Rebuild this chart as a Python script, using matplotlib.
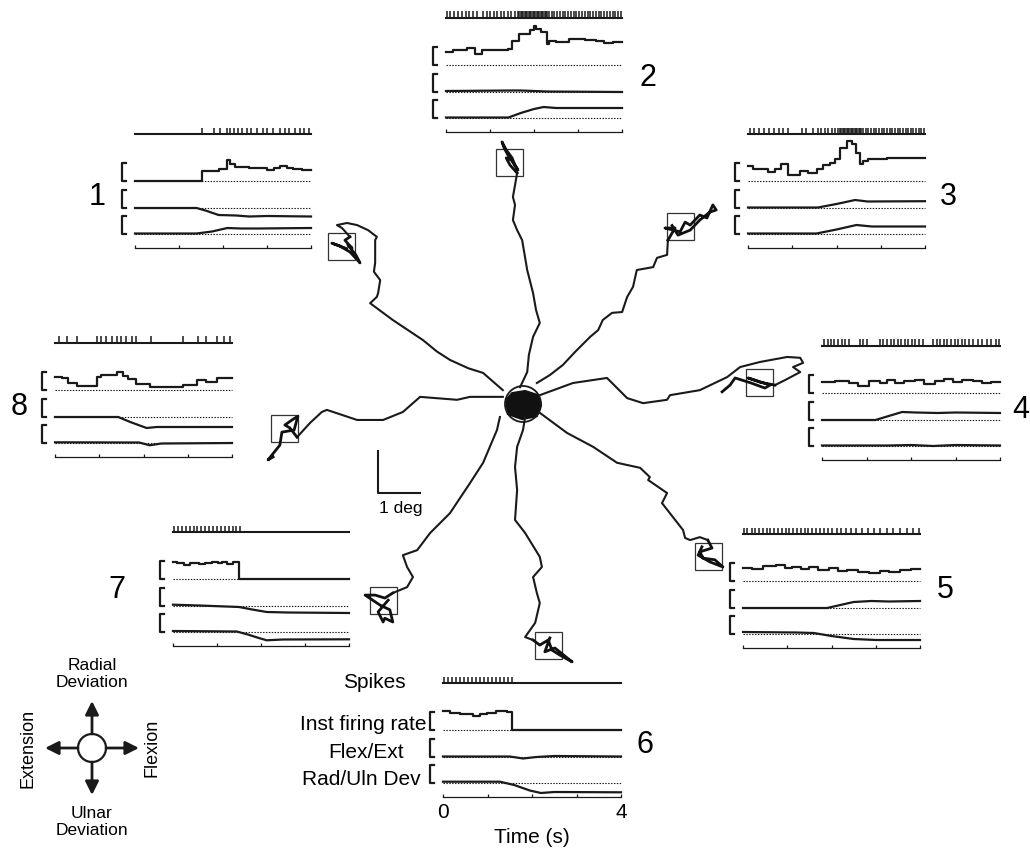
import numpy as np
import matplotlib
matplotlib.use("Agg")
import matplotlib.pyplot as plt
from matplotlib.patches import Circle, Rectangle, Polygon

plt.rcParams['font.family'] = ['Liberation Sans', 'DejaVu Sans']

# ---------------- eye position (deg) for the 8 targets ----------------
path1 = [(-0.48, 0.33), (-0.95, 0.74), (-1.3, 0.85), (-1.74, 1.05), (-2.05, 1.25), (-2.38, 1.52),
         (-3.10, 2.0), (-3.64, 2.40), (-3.48, 2.55), (-3.45, 2.64), (-3.40, 2.95), (-3.55, 3.15),
         (-3.52, 3.36), (-3.52, 3.90), (-3.48, 3.98), (-3.69, 4.14), (-3.95, 4.26), (-4.19, 4.31),
         (-4.43, 4.26), (-4.31, 4.19), (-4.12, 3.98)]
path2 = [(-0.07, 0.40), (0.10, 0.76), (0.14, 1.17), (0.24, 1.60), (0.40, 1.93), (0.31, 2.24),
         (0.24, 2.64), (0.10, 3.19), (-0.02, 3.90), (-0.14, 4.14), (-0.24, 4.38), (-0.19, 4.74),
         (-0.24, 4.93), (-0.19, 5.21), (-0.14, 5.50)]
path3 = [(0.33, 0.50), (0.64, 0.69), (0.95, 0.93), (1.24, 1.24), (1.52, 1.52), (1.60, 1.60),
         (1.79, 1.76), (1.90, 2.0), (2.12, 2.17), (2.36, 2.19), (2.48, 2.55), (2.62, 2.79),
         (2.71, 3.19), (3.10, 3.26), (3.19, 3.48), (3.43, 3.55), (3.45, 3.90)]
path4 = [(0.40, 0.21), (1.19, 0.50), (2.0, 0.62), (2.48, 0.14), (2.86, 0.02), (3.43, 0.10),
         (3.50, 0.21), (4.21, 0.33), (4.86, 0.64), (5.17, 0.88), (5.64, 1.0), (6.29, 1.12),
         (6.60, 1.10), (6.67, 0.98), (6.43, 0.88), (6.60, 0.76), (6.24, 0.57), (6.0, 0.45)]
path5 = [(0.40, -0.21), (1.05, -0.69), (1.67, -1.02), (2.24, -1.40), (2.79, -1.52), (3.02, -1.74),
         (2.98, -1.81), (3.43, -2.12), (3.31, -2.36), (3.81, -3.0), (3.86, -3.19), (3.98, -3.24),
         (4.21, -3.17), (4.40, -3.24)]
path6 = [(0.05, -0.31), (0.0, -0.62), (-0.14, -1.02), (-0.19, -1.5), (-0.14, -2.05), (-0.19, -2.76),
         (0.05, -3.07), (0.40, -3.64), (0.45, -3.88), (0.24, -4.12), (0.33, -4.5), (0.40, -4.74),
         (0.29, -5.21), (0.05, -5.55), (0.24, -5.62)]
path7 = [(-0.55, -0.31), (-0.62, -0.62), (-0.95, -1.40), (-1.26, -1.88), (-1.74, -2.60), (-2.21, -3.07),
         (-2.52, -3.48), (-2.86, -3.60), (-2.76, -3.88), (-2.62, -4.12), (-2.76, -4.36), (-3.10, -4.5)]
path8 = [(-0.48, 0.17), (-1.26, 0.17), (-1.57, 0.10), (-2.45, 0.17), (-2.86, -0.19), (-3.33, -0.38),
         (-3.95, -0.38), (-4.67, -0.14), (-4.79, -0.19), (-5.07, -0.45), (-5.38, -0.79)]

# hold period tangles inside each target window
tangle1 = [(-4.12, 3.98), (-4.24, 3.90), (-4.07, 3.71), (-4.17, 3.79), (-3.98, 3.55), (-3.88, 3.36),
           (-4.12, 3.62), (-4.36, 3.76), (-4.55, 3.83), (-4.2, 3.7)]
tangle2 = [(-0.14, 5.50), (-0.31, 5.69), (-0.40, 5.86), (-0.26, 5.81), (-0.12, 5.57), (-0.36, 5.93),
           (-0.45, 6.10), (-0.50, 6.24), (-0.40, 6.05), (-0.26, 5.86), (-0.2, 5.7)]
tangle3 = [(3.45, 3.90), (3.62, 4.19), (3.38, 4.19), (3.74, 4.10), (3.86, 4.33), (3.98, 4.26),
           (4.21, 4.5), (4.38, 4.43), (4.52, 4.74), (4.60, 4.62), (4.45, 4.57), (4.21, 4.38),
           (3.98, 4.14), (3.69, 4.02), (3.55, 4.25)]
tangle4 = [(6.0, 0.45), (5.64, 0.52), (5.36, 0.62), (5.52, 0.57), (5.88, 0.45), (5.76, 0.38),
           (5.43, 0.5), (5.05, 0.62), (4.93, 0.45), (4.74, 0.29)]
tangle5 = [(4.40, -3.24), (4.50, -3.43), (4.21, -3.52), (4.29, -3.67), (4.57, -3.71), (4.76, -3.88),
           (4.45, -3.76), (4.17, -3.60), (4.26, -3.40)]
tangle6 = [(0.24, -5.62), (0.40, -5.74), (0.60, -5.62), (0.69, -5.86), (0.88, -5.98), (1.17, -6.14),
           (0.76, -5.81), (0.52, -5.90), (0.64, -5.57)]
tangle7 = [(-3.10, -4.5), (-3.29, -4.62), (-3.52, -4.55), (-3.76, -4.55), (-3.40, -4.79), (-3.17, -4.90),
           (-3.10, -5.19), (-3.29, -5.10), (-3.33, -5.19), (-3.45, -4.95), (-3.21, -4.67)]
tangle8 = [(-5.38, -0.79), (-5.55, -0.57), (-5.67, -0.5), (-5.5, -0.38), (-5.36, -0.29), (-5.45, -0.62),
           (-5.74, -0.67), (-5.79, -0.98), (-6.07, -1.33), (-5.95, -1.26)]

targets = [(-4.32, 3.75), (-0.32, 5.75), (3.74, 4.23), (5.63, 0.51),
           (4.42, -3.63), (0.61, -5.76), (-3.33, -4.68), (-5.69, -0.58)]
start_blob = [(-0.40, 0.10), (-0.26, 0.26), (0.05, 0.31), (0.36, 0.21),
              (0.43, -0.02), (0.33, -0.29), (-0.02, -0.36), (-0.36, -0.24)]

# ---------------- unit activity and wrist position, per target ----------------
spikes1 = [1.53, 1.79, 1.94, 2.09, 2.15, 2.24, 2.33, 2.43, 2.54, 2.63, 2.77, 2.92, 2.99, 3.14,
           3.29, 3.40, 3.51, 3.63, 3.74, 3.85, 3.96]
spikes2 = [0.02, 0.10, 0.19, 0.27, 0.36, 0.45, 0.53, 0.62, 0.71,
           0.85, 0.93, 1.0, 1.08, 1.16, 1.24, 1.32, 1.40, 1.48, 1.56,
           1.64, 1.67, 1.70, 1.73, 1.76, 1.79, 1.82, 1.85, 1.88, 1.91, 1.94, 1.97, 2.0, 2.03,
           2.06, 2.09, 2.12, 2.15, 2.18, 2.21, 2.24, 2.27, 2.30, 2.33,
           2.40, 2.46, 2.52, 2.58, 2.65, 2.71, 2.77, 2.84, 2.90, 2.96, 3.03, 3.09, 3.15, 3.22,
           3.28, 3.34, 3.41, 3.47, 3.53, 3.60, 3.66, 3.72, 3.79, 3.85, 3.91, 3.98]
spikes3 = [0.04, 0.14, 0.24, 0.36, 0.48, 0.58, 0.70, 0.79, 0.91, 1.21, 1.32, 1.47, 1.58, 1.66,
           1.74, 1.81, 1.89, 1.96, 2.04, 2.08, 2.11, 2.14, 2.17, 2.20, 2.23, 2.26, 2.29, 2.32,
           2.35, 2.38, 2.41, 2.44, 2.47, 2.50, 2.53, 2.56, 2.59, 2.66, 2.72, 2.78, 2.84, 2.90,
           2.96, 3.02, 3.08, 3.14, 3.20, 3.26, 3.32, 3.38, 3.44, 3.50, 3.56, 3.62, 3.68, 3.74,
           3.80, 3.86, 3.92, 3.98]
spikes4 = [0.05, 0.13, 0.20, 0.28, 0.36, 0.44, 0.52, 0.60, 0.85, 0.93, 1.0, 1.30, 1.38, 1.46,
           1.54, 1.62, 1.70, 1.78, 1.86, 1.94, 2.02, 2.10, 2.18, 2.26, 2.50, 2.58, 2.66, 2.74,
           2.82, 2.90, 2.98, 3.06, 3.14, 3.22, 3.30, 3.40, 3.50, 3.60, 3.70, 3.80, 3.90, 3.98]
spikes5 = [0.02, 0.10, 0.20, 0.28, 0.37, 0.45, 0.54, 0.62, 0.71, 0.80, 0.88, 0.97, 1.05, 1.14,
           1.22, 1.31, 1.40, 1.48, 1.57, 1.66, 1.75, 1.84, 1.93, 2.02, 2.12, 2.22, 2.33, 2.44,
           2.56, 2.68, 2.82, 2.96, 3.10, 3.25, 3.40, 3.55, 3.70, 3.85, 3.98]
spikes6 = [0.02, 0.11, 0.20, 0.29, 0.38, 0.47, 0.56, 0.65, 0.74, 0.83, 0.92, 1.01, 1.10, 1.19,
           1.28, 1.37, 1.46, 1.55]
spikes7 = [0.02, 0.11, 0.20, 0.30, 0.38, 0.47, 0.55, 0.64, 0.73, 0.82, 0.92, 1.0, 1.09, 1.18,
           1.27, 1.36, 1.44, 1.52]
spikes8 = [0.08, 0.26, 0.50, 0.94, 1.05, 1.16, 1.28, 1.39, 1.50, 1.60, 1.73, 1.84, 2.18, 2.89,
           3.23, 3.42, 3.65, 3.83, 3.95]

rate1_t = [0, 1.53, 1.9, 2.09, 2.17, 2.28, 2.6, 3.0, 3.15, 3.3, 3.45, 3.6, 3.8]
rate1_v = [0, 10, 12, 21, 17, 14, 13, 11, 13, 15, 13, 12, 11]
rate2_t = [0, 0.17, 0.47, 0.66, 0.82, 1.4, 1.5, 1.65, 1.9, 2.0, 2.05, 2.15, 2.3, 2.35, 2.5, 2.8, 3.15, 3.4, 3.6, 3.8]
rate2_v = [13, 15, 17, 11, 15, 16, 24, 31, 35, 39, 36, 33, 21, 24, 23, 26, 25, 24, 22, 23]
rate3_t = [0, 0.11, 0.34, 0.45, 0.6, 0.75, 0.91, 1.17, 1.36, 1.55, 1.7, 1.85, 1.96, 2.07, 2.23, 2.34, 2.45, 2.53, 2.6, 2.72, 3.13]
rate3_v = [15, 12, 12, 9, 12, 17, 6, 10, 8, 12, 16, 18, 22, 33, 40, 37, 28, 17, 20, 22, 23]
rate4_t = [0, 0.3, 0.6, 0.8, 1.05, 1.3, 1.45, 1.65, 1.85, 2.1, 2.3, 2.55, 2.75, 2.95, 3.15, 3.4, 3.6, 3.8]
rate4_v = [11, 12, 10, 7, 12, 10, 13, 10, 12, 13, 9, 12, 14, 11, 13, 12, 10, 11]
rate5_t = [0, 0.2, 0.45, 0.75, 0.95, 1.1, 1.3, 1.5, 1.7, 1.95, 2.15, 2.35, 2.6, 2.85, 3.1, 3.3, 3.55, 3.8]
rate5_v = [13, 12, 15, 16, 13, 14, 12, 14, 11, 13, 10, 11, 9, 8, 10, 9, 11, 12]
rate6_t = [0, 0.15, 0.38, 0.68, 0.83, 0.98, 1.2, 1.43, 1.56]
rate6_v = [19, 17, 16, 14, 16, 17, 19, 18, 0]
rate7_t = [0, 0.09, 0.24, 0.39, 0.58, 0.73, 0.88, 1.03, 1.11, 1.22, 1.37, 1.51]
rate7_v = [17, 16, 14, 16, 15, 16, 17, 16, 17, 15, 17, 0]
rate8_t = [0, 0.15, 0.3, 0.49, 0.94, 1.05, 1.39, 1.54, 1.65, 1.84, 2.14, 2.89, 3.2, 3.42, 3.65]
rate8_v = [13, 12, 7, 4, 13, 15, 18, 14, 11, 6, 3, 5, 10, 8, 12]

flex1_t = [0, 1.4, 1.6, 1.9, 2.3, 2.6, 3.0, 4]
flex1_v = [0, 0, -2.5, -7, -7.5, -8.5, -8, -8.5]
rad1_t = [0, 1.4, 1.75, 2.1, 2.4, 2.8, 4]
rad1_v = [0.5, 0.5, 2.5, 6, 5.5, 5.5, 6]
flex2_t = [0, 1.5, 1.7, 2.3, 4]
flex2_v = [1, 1.5, 1.5, 0.5, 0]
rad2_t = [0, 1.42, 1.7, 2.0, 2.22, 2.5, 4]
rad2_v = [0.5, 0.5, 5, 9, 11, 10, 10]
flex3_t = [0, 1.58, 2.0, 2.42, 2.7, 4]
flex3_v = [0.5, 0.5, 4, 8, 6.5, 6.8]
rad3_t = [0, 1.55, 2.0, 2.45, 2.8, 4]
rad3_v = [0.5, 0.5, 4.5, 9, 7.5, 7.5]
flex4_t = [0, 1.2, 1.5, 1.8, 2.1, 2.6, 3.0, 4]
flex4_v = [0, 0, 4, 8, 7.5, 7, 7.5, 7]
rad4_t = [0, 1.5, 2.0, 2.5, 3.0, 4]
rad4_v = [0.5, 0.5, 1, 0, 1, 0.5]
flex5_t = [0, 1.9, 2.2, 2.5, 2.9, 3.3, 4]
flex5_v = [0, 0, 3, 6, 7, 6.5, 7]
rad5_t = [0, 1.2, 1.6, 2.0, 2.5, 3.0, 4]
rad5_v = [2, 1.5, 1, -2, -5, -6, -6]
flex6_t = [0, 1.5, 1.8, 2.1, 2.5, 4]
flex6_v = [0.5, 0.5, -1.5, 0, 1, 0.5]
rad6_t = [0, 1.28, 1.6, 1.95, 2.2, 2.5, 4]
rad6_v = [1.3, 1.3, -2, -7.5, -10, -9, -9.3]
flex7_t = [0, 0.6, 1.5, 1.8, 2.13, 2.6, 4]
flex7_v = [1.3, 0.5, -1, -3.5, -6, -6.5, -7]
rad7_t = [0, 1.45, 1.7, 1.95, 2.13, 2.5, 4]
rad7_v = [1, 0.5, -2.5, -6, -8.3, -7.5, -7.3]
flex8_t = [0, 1.43, 1.7, 2.07, 2.3, 4]
flex8_v = [0, 0, -5, -11, -10, -10]
rad8_t = [0, 1.9, 2.14, 2.4, 4]
rad8_v = [0.7, 0.5, -2.3, -0.5, 0]

time_ticks = [0, 1, 2, 3, 4]

# ---------------- layout (pixels) ----------------
W, H = 1030, 855
CX, CY, PPD = 523, 404, 42.0          # centre of start window, pixels per degree
panel_box = [(135, 311, 248), (446, 622, 132), (748, 925, 248), (822, 1000, 460),
             (743, 920, 648), (443, 621, 797), (173, 349, 646), (55, 232, 457)]
number_pos = [(97, 197), (648, 78), (948, 197), (1012, 410),
              (945, 590), (645, 745), (117, 590), (19, 407)]
ROW_RAD, ROW_FLEX, ROW_RATE, ROW_SPK = 14, 40, 67, 114

fig = plt.figure(figsize=(W / 100, H / 100), dpi=100)

# ---- central trajectory plot ----
ax = fig.add_axes([0, 0, 1, 1])
ax.set_xlim(-CX / PPD, (W - CX) / PPD)
ax.set_ylim(-(H - CY) / PPD, CY / PPD)
ax.axis('off')
paths = [path1, path2, path3, path4, path5, path6, path7, path8]
tangles = [tangle1, tangle2, tangle3, tangle4, tangle5, tangle6, tangle7, tangle8]
for p in paths:
    xs, ys = zip(*p)
    ax.plot(xs, ys, color='#1a1a1a', lw=1.5, solid_joinstyle='round')
for p in tangles:
    xs, ys = zip(*p)
    ax.plot(xs, ys, color='#111111', lw=2.0, solid_joinstyle='round')
box = 27 / PPD
for tx, ty in targets:
    ax.add_patch(Rectangle((tx - box / 2, ty - box / 2), box, box, fill=False, lw=0.9, ec='#333333'))
ax.add_patch(Polygon(start_blob, closed=True, fc='#111111', ec='#111111', lw=1.5))
ax.add_patch(Circle((0, 0), 18 / PPD, fill=False, lw=1.3, ec='#1a1a1a'))
# 1 deg scale bar
sx, sy = (378 - CX) / PPD, (CY - 493) / PPD
ax.plot([sx, sx, sx + 1], [sy + 1, sy, sy], color='#1a1a1a', lw=1.5)
ax.text(sx + 0.55, sy - 0.2, '1 deg', ha='center', va='top', fontsize=12.5)

# ---- unit panels ----
spikes = [spikes1, spikes2, spikes3, spikes4, spikes5, spikes6, spikes7, spikes8]
rates = [(rate1_t, rate1_v), (rate2_t, rate2_v), (rate3_t, rate3_v), (rate4_t, rate4_v),
         (rate5_t, rate5_v), (rate6_t, rate6_v), (rate7_t, rate7_v), (rate8_t, rate8_v)]
flexs = [(flex1_t, flex1_v), (flex2_t, flex2_v), (flex3_t, flex3_v), (flex4_t, flex4_v),
         (flex5_t, flex5_v), (flex6_t, flex6_v), (flex7_t, flex7_v), (flex8_t, flex8_v)]
rads = [(rad1_t, rad1_v), (rad2_t, rad2_v), (rad3_t, rad3_v), (rad4_t, rad4_v),
        (rad5_t, rad5_v), (rad6_t, rad6_v), (rad7_t, rad7_v), (rad8_t, rad8_v)]

k = '#1a1a1a'
for i, (x0, x1, yb) in enumerate(panel_box):
    pa = fig.add_axes([x0 / W, (H - yb) / H, (x1 - x0) / W, 120 / H])
    pa.set_xlim(0, 4)
    pa.set_ylim(0, 120)
    pa.axis('off')
    # time axis
    pa.plot([0, 4], [0, 0], color=k, lw=0.9, clip_on=False)
    pa.vlines(time_ticks, 0, 3, color=k, lw=0.9, clip_on=False)
    # spike raster
    pa.plot([0, 4], [ROW_SPK, ROW_SPK], color=k, lw=1.5, clip_on=False)
    pa.vlines(spikes[i], ROW_SPK, ROW_SPK + 6.5, color=k, lw=1.1, clip_on=False)
    # rows with dotted baselines and scale brackets
    for base in (ROW_RATE, ROW_FLEX, ROW_RAD):
        pa.plot([0, 4], [base, base], color=k, lw=0.8, ls=(0, (1.3, 1.3)), clip_on=False)
        pa.plot([-0.2, -0.3, -0.3, -0.2], [base + 18, base + 18, base, base],
                color=k, lw=1.6, clip_on=False)
    rt, rv = rates[i]
    pa.step(list(rt) + [4], np.array(list(rv) + [rv[-1]]) + ROW_RATE, where='post',
            color=k, lw=1.6, clip_on=False)
    ft, fv = flexs[i]
    pa.plot(ft, np.array(fv) + ROW_FLEX, color=k, lw=1.6, clip_on=False)
    qt, qv = rads[i]
    pa.plot(qt, np.array(qv) + ROW_RAD, color=k, lw=1.6, clip_on=False)
    if i == 5:
        pa.text(0, -6, '0', ha='center', va='top', fontsize=15)
        pa.text(4, -6, '4', ha='center', va='top', fontsize=15)
        pa.text(2, -31, 'Time (s)', ha='center', va='top', fontsize=15)

# panel numbers
for i, (nx, ny) in enumerate(number_pos):
    ha = 'left' if i == 3 else 'center'
    fig.text(nx / W, 1 - ny / H, str(i + 1), ha=ha, va='center', fontsize=22)

# row labels for panel 6
row_labels = ['Spikes', 'Inst firing rate', 'Flex/Ext', 'Rad/Uln Dev']
row_label_pos = [(406, 682), (426, 724), (404, 752), (421, 779)]
for lab, (lx, ly) in zip(row_labels, row_label_pos):
    fig.text(lx / W, 1 - ly / H, lab, ha='right', va='center', fontsize=15)

# ---- direction key ----
ca = fig.add_axes([0, 15 / H, 184 / W, 184 / H])
ca.set_xlim(-92, 92)
ca.set_ylim(-92, 92)
ca.axis('off')
ca.add_patch(Circle((0, 0), 14, fill=False, lw=1.6, ec=k))
for dx, dy in [(0, 1), (0, -1), (-1, 0), (1, 0)]:
    ca.annotate('', xy=(47 * dx, 47 * dy), xytext=(14 * dx, 14 * dy),
                arrowprops=dict(arrowstyle='-|>', lw=2, color=k, mutation_scale=20,
                                shrinkA=0, shrinkB=0))
ca.text(0, 74, 'Radial\nDeviation', ha='center', va='center', fontsize=12.5, linespacing=1.2)
ca.text(0, -74, 'Ulnar\nDeviation', ha='center', va='center', fontsize=12.5, linespacing=1.2)
ca.text(-64, 0, 'Extension', ha='center', va='center', rotation=90, fontsize=13)
ca.text(60, 0, 'Flexion', ha='center', va='center', rotation=90, fontsize=13)

fig.savefig('out.png', dpi=100)
